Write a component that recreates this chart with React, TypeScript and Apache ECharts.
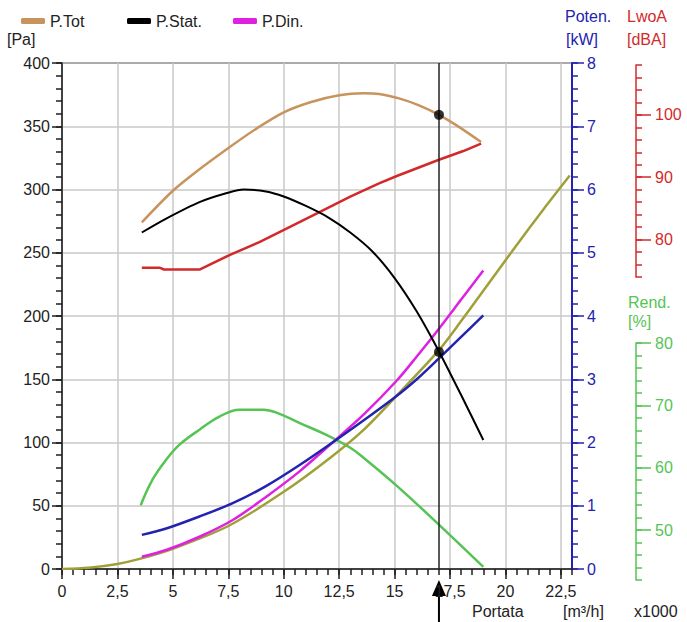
import React, { useEffect, useRef } from 'react';
import * as echarts from 'echarts';

// ---- data ----
const flowTot = [3.6, 5.0, 6.2, 7.6, 8.8, 10.0, 11.2, 12.5, 13.6, 14.3, 15.2, 16.1, 17.0, 17.9, 18.9];
const pTot = [274, 299, 316, 334, 348.5, 361, 369, 374.5, 376, 375.5, 372, 366.5, 359, 349.5, 337.5];

const flowStat = [3.6, 4.7, 6.2, 7.4, 8.2, 9.2, 10.0, 11.0, 12.0, 13.0, 14.0, 15.0, 16.0, 17.0, 18.0, 19.0];
const pStat = [266, 277, 290, 297, 300, 298.5, 294.5, 287, 278, 266, 251, 230, 203.5, 172, 137.5, 102];

const flowDin = [3.6, 4.7, 6.2, 7.7, 9.2, 10.7, 12.2, 13.6, 15.1, 16.0, 17.0, 18.0, 19.0];
const pDin = [9.7, 15, 25.5, 38.7, 57, 77, 100, 122, 149, 168, 190, 213, 236];

const flowSys = [0, 1.2, 2.5, 3.5, 5, 7.5, 10, 12.1, 13.6, 15.2, 17, 18, 19, 20.5, 21.7, 22.9];
const pSys = [0, 1, 4, 8, 16, 34, 61, 88, 110, 139, 173, 196, 220, 256, 284, 311];

const flowPow = [3.6, 4.7, 6.2, 7.7, 9.2, 10.7, 12.2, 14.0, 15.0, 16.0, 17.0, 18.0, 19.0];
const power = [0.54, 0.64, 0.83, 1.04, 1.31, 1.64, 2.0, 2.45, 2.71, 3.0, 3.33, 3.67, 4.01];

const flowLw = [3.6, 4.4, 4.6, 6.2, 7.6, 8.9, 10.1, 11.5, 13.0, 14.3, 15.1, 17.0, 18.1, 18.9];
const lwoA = [75.5, 75.5, 75.2, 75.2, 77.6, 79.6, 81.7, 84.2, 86.9, 89.0, 90.2, 92.8, 94.2, 95.4];

const flowRend = [3.55, 4.1, 4.7, 5.3, 6.2, 7.1, 8.0, 9.1, 9.7, 10.7, 11.9, 13.0, 13.6, 15.1, 16.9, 19.0];
const rend = [54.0, 58.2, 61.3, 63.7, 66.1, 68.2, 69.3, 69.3, 68.8, 67.2, 65.3, 63.2, 61.6, 57.1, 51.2, 44.1];

const opFlow = 17;
const opPoints = [359, 171.6];

const lwTickLabels = [80, 90, 100];
const rendTickLabels = [50, 60, 70, 80];
const legendNames = ['P.Tot', 'P.Stat.', 'P.Din.'];

// ---- styles ----
const FONT = '"Liberation Sans", Arial, sans-serif';
const DARK = '#1e1e1e';
const GRIDC = '#c8c8c8';
const TAN = '#c8945e';
const MAG = '#e020e0';
const OLIVE = '#a0a038';
const BLUE = '#2323b0';
const RED = '#d22a2a';
const GREEN = '#55c455';
const FS = 16;

const zip = (xs: number[], ys: number[]) => xs.map((x, i) => [x, ys[i]]);

export default function App() {
  const ref = useRef<HTMLDivElement>(null);
  useEffect(() => {
    const chart = echarts.init(ref.current!, null, { renderer: 'svg' });
    const lab = (color: string, extra: any = {}) => ({ color, fontSize: FS, fontFamily: FONT, ...extra });
    const minorY = (gridIndex: number, min: number, max: number, interval: number, color: string, len: number, offset = 0, position = 'left') => ({
      type: 'value', gridIndex, min, max, interval, position, offset,
      axisLine: { show: false, onZero: false }, axisLabel: { show: false }, splitLine: { show: false },
      axisTick: { show: true, length: len, lineStyle: { color, width: 1.5 } },
    });
    const option: any = {
      animation: false,
      backgroundColor: '#ffffff',
      grid: [
        { left: 62, top: 63, width: 510, height: 506, show: true, borderColor: DARK, borderWidth: 1.5 },
        { left: 62, top: 65, width: 510, height: 212 },
        { left: 62, top: 343, width: 510, height: 237 },
      ],
      legend: legendNames.map((n, i) => ({
        data: [n], left: [16, 122, 228][i], top: 8, icon: 'roundRect', itemWidth: 24, itemHeight: 6,
        selectedMode: false, textStyle: lab('#222'),
      })),
      xAxis: [
        {
          type: 'value', gridIndex: 0, min: 0, max: 23, interval: 2.5, position: 'bottom',
          axisLine: { show: true, onZero: false, lineStyle: { color: DARK, width: 1.5 } },
          axisTick: { show: true, length: 10, lineStyle: { color: DARK, width: 1.5 } },
          axisLabel: lab('#222', { margin: 14, showMaxLabel: false, formatter: (v: number) => (v > 22.9 ? '' : String(v).replace('.', ',')) }),
          splitLine: { show: true, lineStyle: { color: GRIDC, width: 1.5 } },
        },
        {
          type: 'value', gridIndex: 0, min: 0, max: 23, interval: 0.5, position: 'bottom',
          axisLine: { show: false, onZero: false }, axisLabel: { show: false }, splitLine: { show: false },
          axisTick: { show: true, length: 6, lineStyle: { color: DARK, width: 1.5 } },
        },
        { type: 'value', gridIndex: 1, min: 0, max: 23, show: false, axisLine: { onZero: false } },
        { type: 'value', gridIndex: 2, min: 0, max: 23, show: false, axisLine: { onZero: false } },
      ],
      yAxis: [
        {
          type: 'value', gridIndex: 0, min: 0, max: 400, interval: 50, position: 'left',
          axisLine: { show: true, onZero: false, lineStyle: { color: DARK, width: 1.5 } },
          axisTick: { show: true, length: 10, lineStyle: { color: DARK, width: 1.5 } },
          axisLabel: lab('#222', { margin: 12 }),
          splitLine: { show: true, lineStyle: { color: GRIDC, width: 1.5 } },
        },
        minorY(0, 0, 400, 10, DARK, 6),
        {
          type: 'value', gridIndex: 0, min: 0, max: 8, interval: 1, position: 'right',
          axisLine: { show: true, onZero: false, lineStyle: { color: BLUE, width: 2 } },
          axisTick: { show: true, length: 12, lineStyle: { color: BLUE, width: 1.5 } },
          axisLabel: lab(BLUE, { margin: 15 }),
          splitLine: { show: false },
        },
        minorY(0, 0, 8, 0.2, BLUE, 6, 0, 'right'),
        {
          type: 'value', gridIndex: 1, min: 74, max: 108, interval: 2, position: 'right', offset: 64,
          axisLine: { show: true, onZero: false, lineStyle: { color: RED, width: 1.5 } },
          axisTick: { show: true, length: 6, lineStyle: { color: RED, width: 1.5 } },
          axisLabel: { show: false }, splitLine: { show: false },
        },
        {
          type: 'value', gridIndex: 1, min: 74, max: 108, position: 'right', offset: 64,
          axisLine: { show: false, onZero: false }, splitLine: { show: false },
          axisTick: { show: true, length: 15, customValues: lwTickLabels, lineStyle: { color: RED, width: 1.5 } },
          axisLabel: lab(RED, { margin: 19, customValues: lwTickLabels }),
        },
        {
          type: 'value', gridIndex: 2, min: 42, max: 80, interval: 2, position: 'right', offset: 64,
          axisLine: { show: true, onZero: false, lineStyle: { color: GREEN, width: 1.5 } },
          axisTick: { show: true, length: 6, lineStyle: { color: GREEN, width: 1.5 } },
          axisLabel: { show: false }, splitLine: { show: false },
        },
        {
          type: 'value', gridIndex: 2, min: 42, max: 80, position: 'right', offset: 64,
          axisLine: { show: false, onZero: false }, splitLine: { show: false },
          axisTick: { show: true, length: 15, customValues: rendTickLabels, lineStyle: { color: GREEN, width: 1.5 } },
          axisLabel: lab(GREEN, { margin: 19, customValues: rendTickLabels }),
        },
      ],
      series: [
        { name: 'Rend.', type: 'line', xAxisIndex: 3, yAxisIndex: 6, data: zip(flowRend, rend), showSymbol: false, smooth: 0.4, lineStyle: { color: GREEN, width: 2.5 }, itemStyle: { color: GREEN } },
        { name: 'LwoA', type: 'line', xAxisIndex: 2, yAxisIndex: 4, data: zip(flowLw, lwoA), showSymbol: false, lineStyle: { color: RED, width: 2.5 }, itemStyle: { color: RED } },
        { name: 'Impianto', type: 'line', xAxisIndex: 0, yAxisIndex: 0, data: zip(flowSys, pSys), showSymbol: false, smooth: 0.3, lineStyle: { color: OLIVE, width: 2.5 }, itemStyle: { color: OLIVE } },
        { name: 'P.Din.', type: 'line', xAxisIndex: 0, yAxisIndex: 0, data: zip(flowDin, pDin), showSymbol: false, smooth: 0.3, lineStyle: { color: MAG, width: 2.5 }, itemStyle: { color: MAG } },
        { name: 'Poten.', type: 'line', xAxisIndex: 0, yAxisIndex: 2, data: zip(flowPow, power), showSymbol: false, smooth: 0.3, lineStyle: { color: BLUE, width: 2.5 }, itemStyle: { color: BLUE } },
        { name: 'P.Tot', type: 'line', xAxisIndex: 0, yAxisIndex: 0, data: zip(flowTot, pTot), showSymbol: false, smooth: 0.3, lineStyle: { color: TAN, width: 2.5 }, itemStyle: { color: TAN } },
        { name: 'P.Stat.', type: 'line', xAxisIndex: 0, yAxisIndex: 0, data: zip(flowStat, pStat), showSymbol: false, smooth: 0.3, lineStyle: { color: '#000', width: 2 }, itemStyle: { color: '#000' } },
        {
          name: 'Punto', type: 'scatter', xAxisIndex: 0, yAxisIndex: 0, data: opPoints.map((p) => [opFlow, p]),
          symbolSize: 10, itemStyle: { color: '#000' }, z: 5,
          markLine: { silent: true, symbol: ['none', 'none'], label: { show: false }, lineStyle: { color: '#222', width: 1.5, type: 'solid' }, data: [{ xAxis: opFlow }] },
        },
      ],
    };
    chart.setOption(option);
    const ax = chart.convertToPixel({ xAxisIndex: 0 }, opFlow) as number;
    const t = (text: string, x: number, y: number, fill: string) => ({ type: 'text', x, y, style: { text, fill, font: `${FS}px ${FONT}`, align: 'left', verticalAlign: 'top' } });
    chart.setOption({
      graphic: [
        t('[Pa]', 7, 31, '#222'),
        t('Poten.', 565, 8, BLUE),
        t('[kW]', 566, 31, BLUE),
        t('LwoA', 627, 8, RED),
        t('[dBA]', 627, 31, RED),
        t('Rend.', 628, 294, GREEN),
        t('[%]', 628, 313, GREEN),
        t('Portata', 472, 603, '#222'),
        t('[m³/h]', 563, 603, '#222'),
        t('x1000', 634, 603, '#222'),
        { type: 'line', shape: { x1: ax, y1: 592, x2: ax, y2: 622 }, style: { stroke: '#000', lineWidth: 2 } },
        { type: 'polygon', shape: { points: [[ax, 580], [ax - 7, 596], [ax + 7, 596]] }, style: { fill: '#000' } },
      ],
    });
    return () => chart.dispose();
  }, []);
  return <div ref={ref} style={{ position: 'absolute', left: 0, top: 0, width: 687, height: 622 }} />;
}
